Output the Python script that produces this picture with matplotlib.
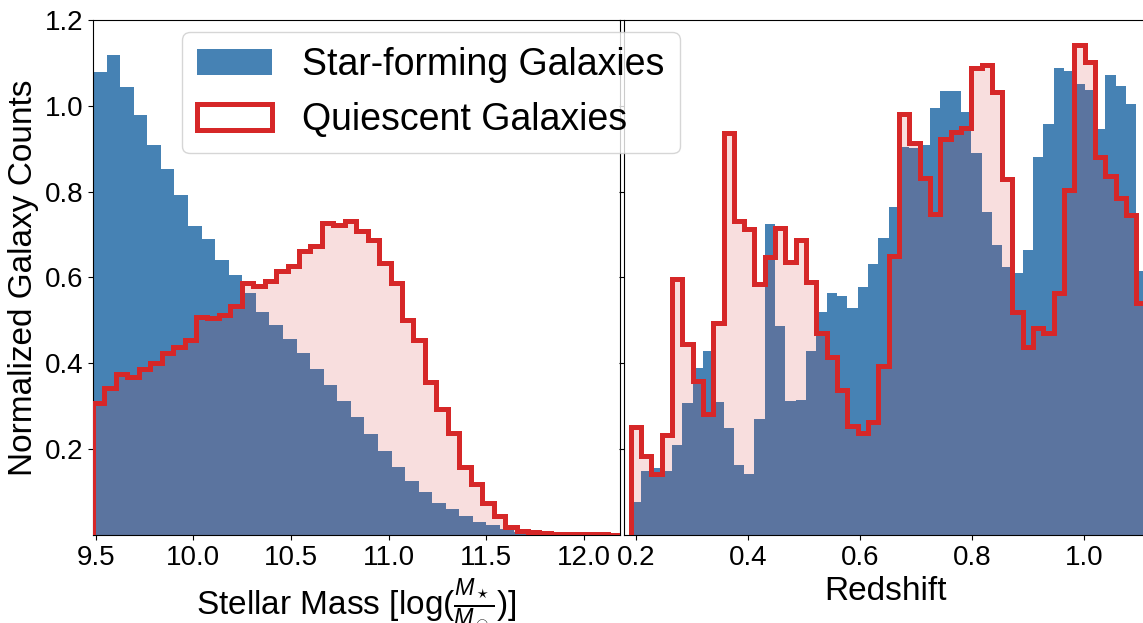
import numpy as np
import matplotlib
matplotlib.use("Agg")
import matplotlib.pyplot as plt

plt.rcParams['font.family'] = ['Liberation Sans', 'DejaVu Sans']
plt.rcParams['mathtext.fontset'] = 'custom'
plt.rcParams['mathtext.rm'] = 'Liberation Sans'
plt.rcParams['mathtext.it'] = 'Liberation Sans:italic'

# normalized histogram heights, stellar mass (log M*/Msun)
mass_lo, mass_hi = 9.486, 12.183
sf_mass_width = 0.0695
sf_mass = [1.079, 1.118, 1.043, 0.979, 0.909, 0.853, 0.792, 0.720, 0.690, 0.641,
           0.606, 0.563, 0.519, 0.489, 0.456, 0.423, 0.387, 0.349, 0.312, 0.275,
           0.235, 0.196, 0.159, 0.126, 0.099, 0.075, 0.061, 0.044, 0.030, 0.023,
           0.014, 0.006, 0.004, 0.003, 0.002, 0.001, 0.001, 0.0005, 0.0003]
q_mass = [0.308, 0.343, 0.374, 0.367, 0.386, 0.401, 0.425, 0.439, 0.454, 0.507,
          0.505, 0.513, 0.534, 0.588, 0.579, 0.591, 0.616, 0.626, 0.662, 0.673,
          0.727, 0.722, 0.732, 0.708, 0.688, 0.634, 0.587, 0.501, 0.454, 0.357,
          0.294, 0.237, 0.159, 0.119, 0.074, 0.044, 0.019, 0.009, 0.008, 0.004,
          0.003, 0.003, 0.002, 0.002, 0.002, 0.001]

# normalized histogram heights, redshift
z_lo, z_width = 0.1905, 0.01843
sf_z = [0.076, 0.149, 0.155, 0.149, 0.210, 0.307, 0.388, 0.429, 0.309, 0.249,
        0.163, 0.142, 0.270, 0.725, 0.487, 0.312, 0.315, 0.429, 0.520, 0.563,
        0.557, 0.528, 0.577, 0.631, 0.693, 0.764, 0.904, 0.902, 0.909, 0.996,
        1.034, 1.034, 0.985, 0.889, 0.752, 0.676, 0.625, 0.610, 0.664, 0.880,
        0.958, 1.087, 1.080, 1.051, 1.037, 0.946, 1.072, 1.046, 1.004, 0.614]
q_z = [0.252, 0.183, 0.142, 0.233, 0.596, 0.444, 0.359, 0.281, 0.494, 0.936,
       0.732, 0.712, 0.584, 0.648, 0.716, 0.637, 0.687, 0.590, 0.471, 0.414,
       0.338, 0.254, 0.237, 0.264, 0.394, 0.650, 0.980, 0.913, 0.831, 0.747,
       0.923, 0.940, 0.948, 1.087, 1.095, 1.033, 0.829, 0.519, 0.439, 0.482,
       0.470, 0.565, 0.805, 1.142, 1.102, 0.881, 0.836, 0.786, 0.746, 0.541]

mass_ticks = [9.5, 10.0, 10.5, 11.0, 11.5, 12.0]
z_ticks = [0.2, 0.4, 0.6, 0.8, 1.0]
y_ticks = [0.2, 0.4, 0.6, 0.8, 1.0, 1.2]

blue = '#4682B4'
red = '#D62728'


def draw(ax, sf_vals, sf_edges, q_vals, q_edges):
    # star-forming: solid bars; quiescent: translucent fill plus thick outline
    ax.hist(sf_edges[:-1], bins=sf_edges, weights=sf_vals, histtype='bar',
            rwidth=1.0, color=blue, label='Star-forming Galaxies', zorder=1)
    ax.hist(q_edges[:-1], bins=q_edges, weights=q_vals, histtype='stepfilled',
            color=red, alpha=0.15, linewidth=0, zorder=2)
    ax.hist(q_edges[:-1], bins=q_edges, weights=q_vals, histtype='step',
            color=red, linewidth=3.6, label='Quiescent Galaxies', zorder=3)


fig = plt.figure(figsize=(11.43, 6.23), dpi=100)
ax1 = fig.add_axes([0.0814, 0.1413, 0.4606, 0.8266])
ax2 = fig.add_axes([0.5459, 0.1413, 0.4573, 0.8266], sharey=ax1)

sf_mass_edges = mass_lo + sf_mass_width * np.arange(len(sf_mass) + 1)
q_mass_edges = np.linspace(mass_lo, mass_hi, len(q_mass) + 1)
draw(ax1, sf_mass, sf_mass_edges, q_mass, q_mass_edges)

z_edges = z_lo + z_width * np.arange(len(sf_z) + 1)
draw(ax2, sf_z, z_edges, q_z, z_edges)

ax1.set_xlim(mass_lo, mass_hi)
ax1.set_ylim(0, 1.2)
ax1.set_xticks(mass_ticks)
ax1.set_yticks(y_ticks)
ax1.set_ylabel('Normalized Galaxy Counts', fontsize=24)
ax1.set_xlabel(r'Stellar Mass [log($\frac{M_\star}{M_\odot}$)]', fontsize=24)

ax2.set_xlim(0.1786, 1.112)
ax2.set_xticks(z_ticks)
ax2.set_xlabel('Redshift', fontsize=24)
ax2.tick_params(labelleft=False)

for ax in (ax1, ax2):
    ax.tick_params(labelsize=20)

handles, labels = ax1.get_legend_handles_labels()
fig.legend(handles, labels, loc='upper left', bbox_to_anchor=(0.143, 0.978),
           fontsize=27)

fig.savefig('out.png', dpi=100)
